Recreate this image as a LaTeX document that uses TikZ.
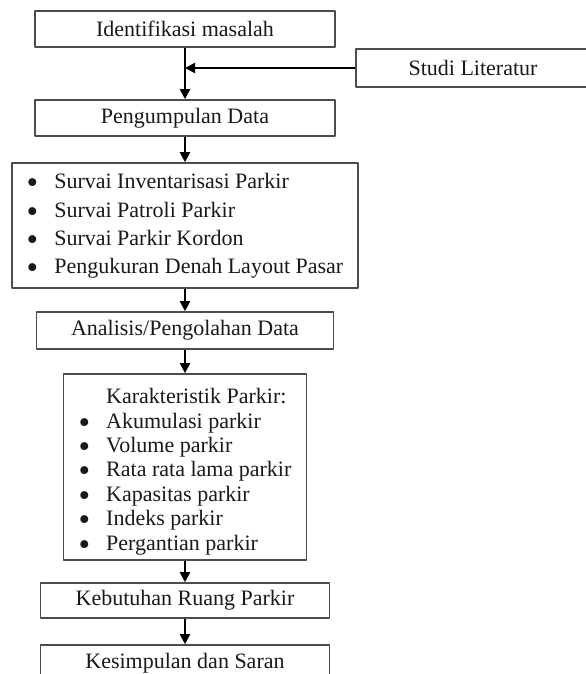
\documentclass[tikz,border=0pt]{standalone}
\usepackage{fontspec}
\setmainfont{Liberation Serif}
\usetikzlibrary{arrows.meta}
\newcommand{\itm}{\raisebox{-2.5pt}[0pt][0pt]{\scalebox{1.5}{\textbullet}}}
\begin{document}
\begin{tikzpicture}[x=0.5pt,y=-0.5pt,font=\fontsize{11}{12}\selectfont,line join=round,>={Triangle[length=5pt,width=5pt]},
		box/.style={draw=black!70,line width=0.8pt,inner sep=0pt,text=black!90},
		arr/.style={->,line width=1pt}]
	\useasboundingbox (0,0) rectangle (585,674);
	
	\node[box,minimum width=150pt,minimum height=18pt] (ident) at (185,29) {Identifikasi masalah};
	\node[box,minimum width=117pt,minimum height=19pt] (studi) at (473,68) {Studi Literatur};
	\node[box,minimum width=150pt,minimum height=18pt] (kumpul) at (185,118) {Pengumpulan Data};
	
	\node[box,minimum width=173pt,minimum height=62.5pt] (survai) at (185,225.5) {\fontsize{11}{14.1}\selectfont
		\begin{tabular}{@{}l@{\hspace{8pt}}l@{}}
			\itm & Survai Inventarisasi Parkir\\
			\itm & Survai Patroli Parkir\\
			\itm & Survai Parkir Kordon\\
			\itm & Pengukuran Denah Layout Pasar
	\end{tabular}};
	
	\node[box,minimum width=148.5pt,minimum height=18.5pt] (analisis) at (185,330.5) {Analisis/Pengolahan Data};
	
	\node[box,minimum width=121.5pt,minimum height=93pt] (karak) at (185,467) {\fontsize{11}{12.2}\selectfont
		\begin{tabular}{@{}l@{\hspace{8pt}}l@{}}
			\rule{0pt}{13.5pt} & Karakteristik Parkir:\\
			\itm & Akumulasi parkir\\
			\itm & Volume parkir\\
			\itm & Rata rata lama parkir\\
			\itm & Kapasitas parkir\\
			\itm & Indeks parkir\\
			\itm & Pergantian parkir
	\end{tabular}};
	
	\node[box,minimum width=144.5pt,minimum height=17.5pt] (butuh) at (185,600.5) {Kebutuhan Ruang Parkir};
	\node[box,minimum width=144.5pt,minimum height=18pt] (simpul) at (185,663) {Kesimpulan dan Saran};
	
	\draw[arr] (ident) -- (kumpul);
	\draw[arr] (studi) -- (studi -| ident);
	\draw[arr] (kumpul) -- (survai);
	\draw[arr] (survai) -- (analisis);
	\draw[arr] (analisis) -- (karak);
	\draw[arr] (karak) -- (butuh);
	\draw[arr] (butuh) -- (simpul);
\end{tikzpicture}
\end{document}
